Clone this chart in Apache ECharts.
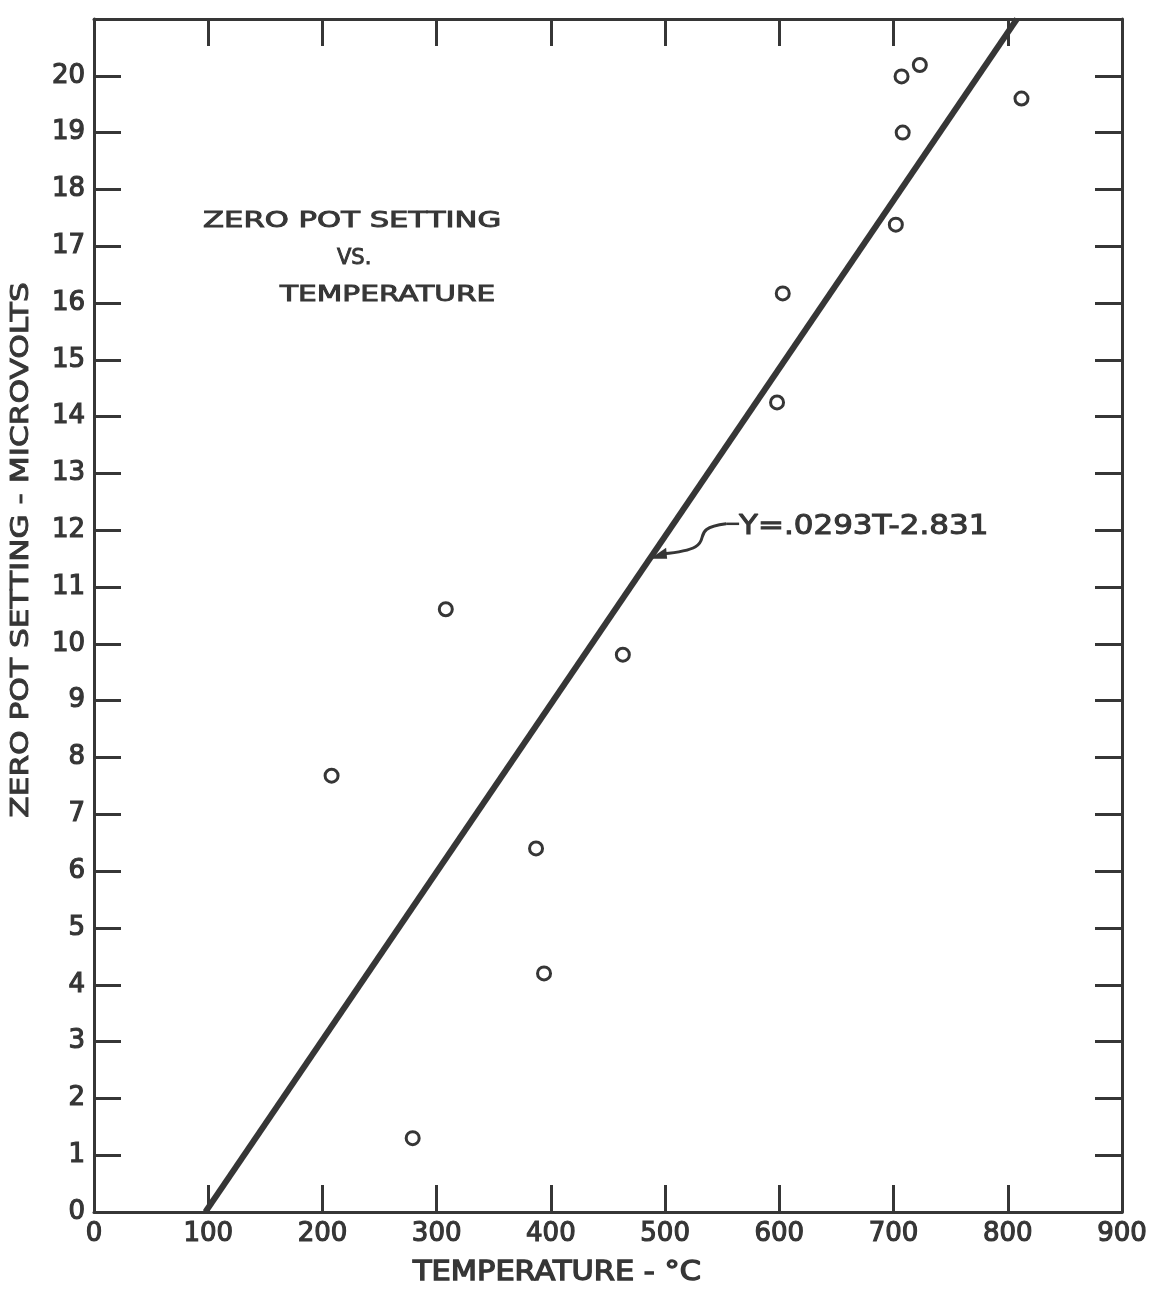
<!DOCTYPE html>
<html><head><meta charset="utf-8">
<script src="https://cdn.jsdelivr.net/npm/echarts@6/dist/echarts.min.js"></script>
<style>html,body{margin:0;padding:0;background:#fff}#c{width:1151px;height:1292px}</style>
</head><body><div id="c"></div>
<script>
// Measured points (temperature °C, zero pot setting µV)
const temperature = [208, 279, 308, 387, 394, 463, 598, 603, 702, 707, 708, 723, 812];
const zeroPot     = [7.68, 1.30, 10.61, 6.40, 4.20, 9.81, 14.25, 16.17, 17.38, 19.99, 19.0, 20.19, 19.6];
// Fitted line as drawn (end points)
const fitLineT = [97.5, 808];
const fitLineY = [0, 21];
// Tick labels
const xTickLabels = ['0','100','200','300','400','500','600','700','800','900'];
const yTickLabels = ['0','1','2','3','4','5','6','7','8','9','10','11','12','13','14','15','16','17','18','19','20'];
const equationText = 'Y=.0293T-2.831';
const equationAnchor = [486, 11.48]; // point on the line the arrow touches

const INK = '#363636';
const FONT = 'DejaVu Sans';

const chart = echarts.init(document.getElementById('c'), null, {renderer: 'canvas'});

const axisCommon = {
  type: 'value',
  axisLine: {show: true, onZero: false, lineStyle: {color: INK, width: 3}},
  axisTick: {show: true, inside: true, length: 27, lineStyle: {color: INK, width: 3}},
  splitLine: {show: false}
};
const tickLabelStyle = {color: INK, fontSize: 26, fontFamily: FONT, textBorderColor: INK, textBorderWidth: 1.2};

const option = {
  backgroundColor: '#fff',
  animation: false,
  grid: {left: 94, right: 29, top: 19, bottom: 80, containLabel: false},
  xAxis: [
    Object.assign({}, axisCommon, {
      position: 'bottom', min: 0, max: 900, interval: 100,
      axisLabel: Object.assign({margin: 9,
        formatter: v => xTickLabels.includes(String(v)) ? String(v) : ''}, tickLabelStyle)
    }),
    Object.assign({}, axisCommon, {
      position: 'top', min: 0, max: 900, interval: 100, axisLabel: {show: false}
    })
  ],
  yAxis: [
    Object.assign({}, axisCommon, {
      position: 'left', min: 0, max: 21, interval: 1,
      axisLabel: Object.assign({margin: 9,
        formatter: v => yTickLabels.includes(String(v)) ? String(v) : ''}, tickLabelStyle)
    }),
    Object.assign({}, axisCommon, {
      position: 'right', min: 0, max: 21, interval: 1, axisLabel: {show: false}
    })
  ],
  series: [
    {
      type: 'line', xAxisIndex: 0, yAxisIndex: 0,
      data: fitLineT.map((t, i) => [t, fitLineY[i]]),
      symbol: 'none', lineStyle: {color: INK, width: 6}, z: 2
    },
    {
      type: 'scatter', xAxisIndex: 0, yAxisIndex: 0,
      data: temperature.map((t, i) => [t, zeroPot[i]]),
      symbol: 'circle', symbolSize: 13,
      itemStyle: {color: '#fff', borderColor: INK, borderWidth: 3, opacity: 1},
      z: 3
    }
  ]
};
chart.setOption(option);

const tip = chart.convertToPixel({xAxisIndex: 0, yAxisIndex: 0}, equationAnchor);
const tx = tip[0], ty = tip[1];

function label(text, x, y, size, sx, bw, extra) {
  return Object.assign({
    type: 'text', x: x, y: y, scaleX: sx || 1,
    style: {text: text, fill: INK, font: size + 'px "' + FONT + '"', textVerticalAlign: 'middle', textAlign: 'left',
      stroke: INK, lineWidth: bw || 0}
  }, extra || {});
}

chart.setOption({
  graphic: [
    label('ZERO POT SETTING', 203, 222, 21, 1.46, 0.9),
    label('VS.', 337, 259, 21, 1.0, 0.9),
    label('TEMPERATURE', 280, 296, 21, 1.41, 0.9),
    label('TEMPERATURE - °C', 413, 1273, 26, 1.17, 1.3),
    {
      type: 'text', x: 22, y: 550, rotation: Math.PI / 2, scaleX: 1.3,
      style: {text: 'ZERO POT SETTING - MICROVOLTS', fill: INK, font: '24px "' + FONT + '"',
        textAlign: 'center', textVerticalAlign: 'middle', stroke: INK, lineWidth: 0.9}
    },
    label(equationText, tx + 90, ty - 33, 26, 1.19, 1.0),
    {
      type: 'line', shape: {x1: tx + 77, y1: ty - 36, x2: tx + 90, y2: ty - 36},
      style: {stroke: INK, lineWidth: 2.5}
    },
    {
      type: 'bezierCurve',
      shape: {x1: tx + 77, y1: ty - 36, cpx1: tx + 30, cpy1: ty - 30, cpx2: tx + 80, cpy2: ty - 12, x2: tx + 14, y2: ty - 6},
      style: {stroke: INK, lineWidth: 3, fill: null}
    },
    {
      type: 'polygon',
      shape: {points: [[tx + 1, ty - 1], [tx + 17, ty - 12], [tx + 18, ty - 1]]},
      style: {fill: INK}
    }
  ]
});
</script>
</body></html>
